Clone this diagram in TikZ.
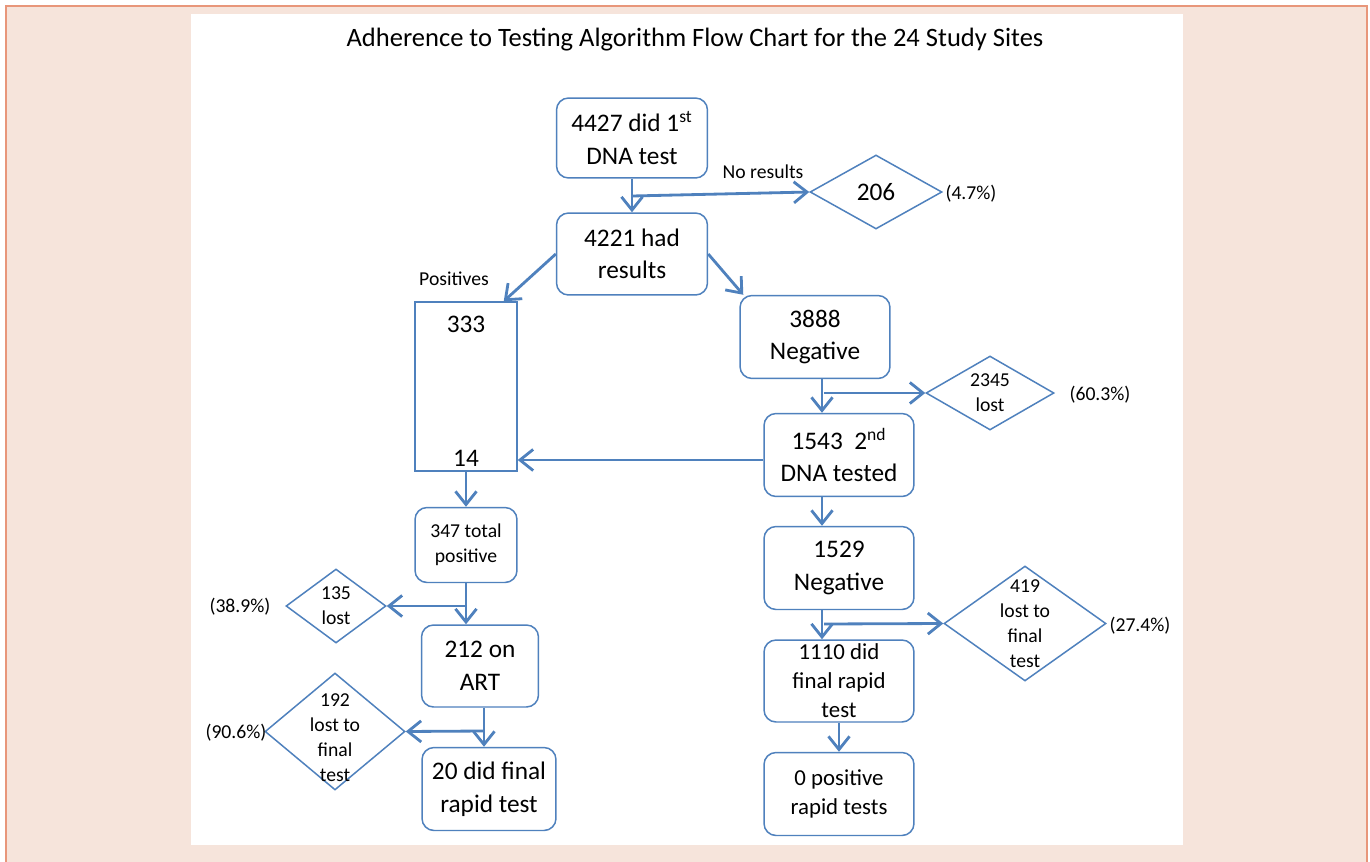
\documentclass[tikz,border=0pt]{standalone}
\usepackage{fontspec}
\setmainfont{Carlito}
\usepackage{tikz}
\usetikzlibrary{shapes.geometric,arrows.meta}
\definecolor{flowblue}{RGB}{79,129,189}
\definecolor{peach}{RGB}{246,228,219}
\definecolor{peachline}{RGB}{232,150,122}
\tikzset{box/.style={draw=flowblue, line width=0.85pt, rounded corners=0.24cm, align=center, fill=white, inner sep=1pt},
  bigtext/.style={font=\fontsize{14.4}{18.5}\selectfont},
  midtext/.style={font=\fontsize{13}{16.5}\selectfont},
  smalltext/.style={font=\fontsize{11.2}{14.2}\selectfont, align=center},
  lossdia/.style={draw=flowblue, line width=0.85pt, diamond, inner sep=0pt},
  flow/.style={draw=flowblue, line width=1.6pt, -{Straight Barb[length=7.5pt,width=12pt,line width=1.6pt]}},
  branch/.style={draw=flowblue, line width=1.6pt, -{Straight Barb[length=7.5pt,width=12pt,line width=1.6pt]}}}

\begin{document}
\begin{tikzpicture}[x=0.02cm, y=-0.02cm]
      \useasboundingbox (0,0) rectangle (1370,862);
      \fill [peach] (6,6) rectangle (1367,862);
      \draw [peachline, line width=0.9pt] (6,862) -- (6,6) -- (1367,6) -- (1367,862);
      \fill [white] (191,14) rectangle (1183,845);
      \node [font=\fontsize{15.1}{18}\selectfont] (title) at (695,40) {Adherence to Testing Algorithm Flow Chart for the 24 Study Sites};
      % positive branch
      \node [box, bigtext, minimum width=3.02cm, minimum height=1.6cm] (n4427) at (632,138) {4427 did 1\textsuperscript{st}\\DNA test};
      \node [box, bigtext, minimum width=3.02cm, minimum height=1.64cm] (n4221) at (632,254) {4221 had\\results};
      \node [lossdia, minimum width=2.64cm, minimum height=1.48cm, label={[bigtext]center:206}] (d206) at (876,192) {};
      \node [smalltext] (p206) at (971,194) {(4.7\%)};
      \node [smalltext] (noresults) at (763,172) {No results};
      \node [smalltext] (positives) at (454,279) {Positives};
      \node [draw=flowblue, line width=0.85pt, fill=white, minimum width=2.04cm, minimum height=3.38cm,
        label={[bigtext, anchor=north, inner sep=8pt]north:333}, label={[bigtext, anchor=south, inner sep=3pt]south:14}] (pos) at (466,386.5) {};
      \node [box, smalltext, minimum width=2.04cm, minimum height=1.5cm] (n347) at (466,545) {347 total\\positive};
      \node [lossdia, minimum width=2cm, minimum height=1.48cm, label={[smalltext]center:135\\lost}] (d135) at (336,606) {};
      \node [smalltext] (p135) at (240,607) {(38.9\%)};
      \node [box, bigtext, minimum width=2.34cm, minimum height=1.64cm] (n212) at (480,666) {212 on\\ART};
      \node [lossdia, minimum width=2.8cm, minimum height=2.34cm, label={[smalltext, yshift=-0.12cm]center:192\\lost to\\final\\test}] (d192) at (335,731.5) {};
      \node [smalltext] (p192) at (236,733) {(90.6\%)};
      \node [box, bigtext, minimum width=2.68cm, minimum height=1.66cm] (n20) at (489,789) {20 did final\\rapid test};
      % negative branch
      \node [box, bigtext, minimum width=3cm, minimum height=1.66cm] (n3888) at (815,337) {3888\\Negative};
      \node [lossdia, minimum width=2.56cm, minimum height=1.48cm, label={[smalltext]center:2345\\lost}] (d2345) at (990,393) {};
      \node [smalltext] (p2345) at (1100,395) {(60.3\%)};
      \node [box, bigtext, minimum width=3cm, minimum height=1.66cm] (n1543) at (839,455) {1543\ \ 2\textsuperscript{nd}\\DNA tested};
      \node [box, bigtext, minimum width=3cm, minimum height=1.66cm] (n1529) at (839,568) {1529\\Negative};
      \node [lossdia, minimum width=3.24cm, minimum height=2.3cm, label={[smalltext]center:419\\lost to\\final\\test}] (d419) at (1025,623.5) {};
      \node [smalltext] (p419) at (1140,626) {(27.4\%)};
      \node [box, midtext, minimum width=3cm, minimum height=1.64cm] (n1110) at (839,681) {1110 did\\final rapid\\test};
      \node [box, midtext, minimum width=3cm, minimum height=1.66cm] (n0) at (839,794) {0 positive\\rapid tests};
      \coordinate (b206) at (632,196);
      \coordinate (b2345) at (824,393);
      \coordinate (b135) at (466,606);
      \coordinate (b419) at (824,624);
      \coordinate (b192) at (484,731);
      \draw [flow] (n4427) -- (n4221);
      \draw [branch] (b206) -- (d206.west);
      \draw [flow] (n4221.west) -- ([xshift=-0.28cm]pos.north east);
      \draw [flow] (n4221.east) -- ([xshift=0.08cm]n3888.north west);
      \draw [flow] ([xshift=0.14cm]n3888.south) -- ([xshift=0.14cm]n3888.south |- n1543.north);
      \draw [branch] (b2345) -- (d2345.west);
      \draw [flow] ([yshift=-0.1cm]n1543.west) -- ([yshift=-0.1cm]n1543.west -| pos.east);
      \draw [flow] (pos) -- (n347);
      \draw [flow] ([xshift=-0.34cm]n1543.south) -- ([xshift=-0.34cm]n1529.north);
      \draw [flow] (n347.south) -- (n347.south |- n212.north);
      \draw [branch] (b135) -- (d135.east);
      \draw [flow] ([xshift=-0.34cm]n1529.south) -- ([xshift=-0.34cm]n1110.north);
      \draw [branch] (b419) -- (d419.west);
      \draw [flow] ([xshift=0.08cm]n212.south) -- ([xshift=0.08cm]n212.south |- n20.north);
      \draw [branch] (b192) -- (d192.east);
      \draw [flow] (n1110) -- (n0);
    \end{tikzpicture}
\end{document}
